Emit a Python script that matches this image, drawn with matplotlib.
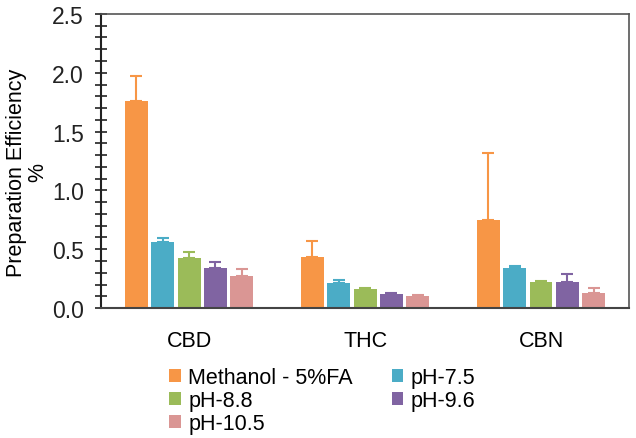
import numpy as np
import matplotlib
matplotlib.use("Agg")
import matplotlib.pyplot as plt
from matplotlib.ticker import MultipleLocator

plt.rcParams['font.family'] = ['Liberation Sans', 'DejaVu Sans']

compounds = ['CBD', 'THC', 'CBN']
series = ['Methanol - 5%FA', 'pH-7.5', 'pH-8.8', 'pH-9.6', 'pH-10.5']
colors = ['#F79646', '#4BACC6', '#9BBB59', '#8064A2', '#DA9694']

# bar heights per series (CBD, THC, CBN)
methanol = [1.76, 0.436, 0.748]
ph75 = [0.564, 0.213, 0.343]
ph88 = [0.425, 0.159, 0.218]
ph96 = [0.343, 0.122, 0.224]
ph105 = [0.270, 0.105, 0.130]

# upper error (standard deviation)
methanol_err = [0.21, 0.136, 0.567]
ph75_err = [0.031, 0.025, 0.017]
ph88_err = [0.051, 0.008, 0.012]
ph96_err = [0.047, 0.008, 0.068]
ph105_err = [0.060, 0.005, 0.043]

values = [methanol, ph75, ph88, ph96, ph105]
errors = [methanol_err, ph75_err, ph88_err, ph96_err, ph105_err]

fig = plt.figure(figsize=(6.36, 4.39), dpi=100)
ax = fig.add_axes([0.159, 0.296, 0.830, 0.670])

x = np.arange(len(compounds))
width = 0.13
step = 0.15
bars = []
for i, (name, vals, err, c) in enumerate(zip(series, values, errors, colors)):
    pos = x + (i - 2) * step
    bars.append(ax.bar(pos, vals, width, color=c, label=name, zorder=2))
    ax.errorbar(pos, vals, yerr=[np.zeros(len(vals)), err], fmt='none',
                ecolor=c, elinewidth=1.5, capsize=4, capthick=1.5, zorder=3)

ax.set_xlim(-0.5, 2.5)
ax.set_ylim(0, 2.5)
ax.set_xticks(x)
ax.set_xticklabels(compounds)
ax.yaxis.set_major_locator(MultipleLocator(0.5))
ax.yaxis.set_minor_locator(MultipleLocator(0.1))
ax.yaxis.set_major_formatter(matplotlib.ticker.FormatStrFormatter('%.1f'))
ax.tick_params(axis='y', which='both', direction='inout', length=9, width=1.2,
               labelsize=16.5, colors='#222222', pad=8)
ax.tick_params(axis='x', length=0, pad=16, labelsize=15.5)
for s in ['top', 'right']:
    ax.spines[s].set_color('#555555')
    ax.spines[s].set_linewidth(1.2)
ax.spines['left'].set_color('#222222')
ax.spines['left'].set_linewidth(1.5)
ax.spines['bottom'].set_color('#444444')
ax.spines['bottom'].set_linewidth(1.5)

ax.set_ylabel('Preparation Efficiency\n%', fontsize=15.5, linespacing=1.0)
ax.yaxis.set_label_coords(-0.100, 0.463)

# row-major legend order like the original
order = [0, 2, 4, 1, 3]
fig.legend([bars[i] for i in order], [series[i] for i in order],
           loc='upper left', bbox_to_anchor=(0.252, 0.182), ncol=2, frameon=False,
           fontsize=15.5, handlelength=0.55, handleheight=0.55, handletextpad=0.35,
           columnspacing=1.8, labelspacing=0.1, borderaxespad=0)

fig.savefig('out.png', dpi=100)
